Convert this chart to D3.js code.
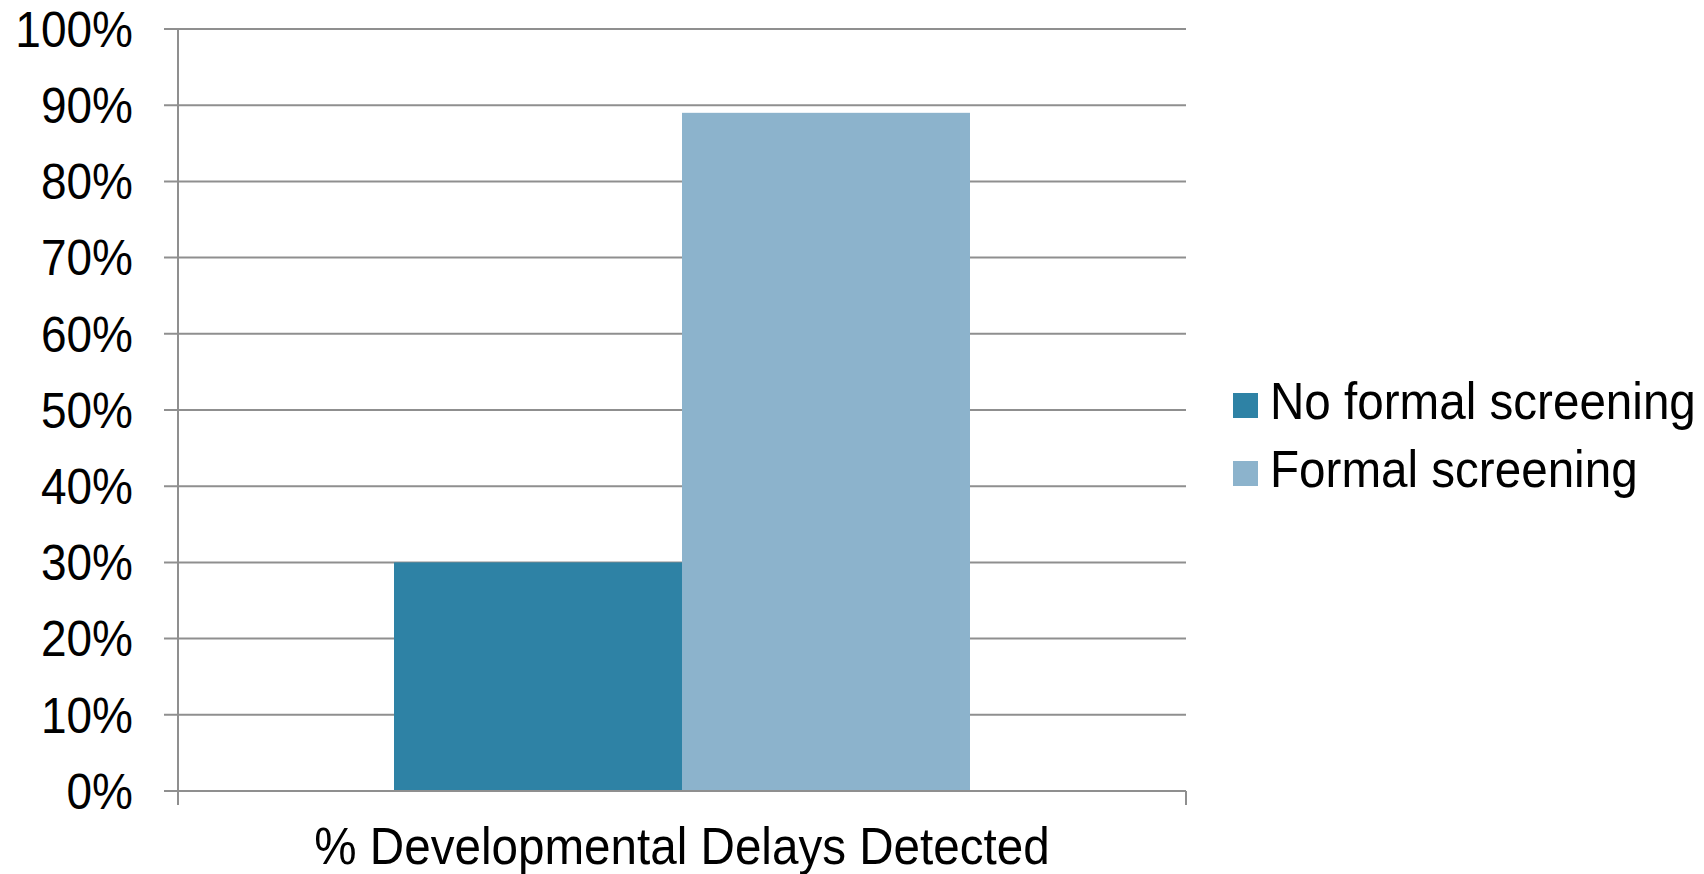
<!DOCTYPE html>
<html>
<head>
<meta charset="utf-8">
<script src="https://cdn.jsdelivr.net/npm/d3@7"></script>
<style>
  html, body { margin: 0; padding: 0; background: #ffffff; }
  svg { display: block; font-family: "Liberation Sans", Arial, sans-serif; }
</style>
</head>
<body>
<svg id="chart" width="1704" height="874"></svg>
<script>
// Data
const categories = ["% Developmental Delays Detected"];
const seriesNames = ["No formal screening", "Formal screening"];
const seriesValues = [[0.30], [0.89]];
const seriesColors = ["#2e82a5", "#8cb3cc"];
const yTicks = [0, 0.1, 0.2, 0.3, 0.4, 0.5, 0.6, 0.7, 0.8, 0.9, 1.0];

const svg = d3.select("#chart");
const plot = { left: 178, right: 1186, top: 29, bottom: 791 };
const gridColor = "#8f8f8f";
const textStretch = 1.07; // glyphs are drawn slightly taller than wide

const y = d3.scaleLinear().domain([0, 1]).range([plot.bottom, plot.top]);
const x0 = d3.scaleBand().domain(categories).range([plot.left, plot.right])
  .paddingInner(0).paddingOuter(0.375);
const x1 = d3.scaleBand().domain(seriesNames).range([0, x0.bandwidth()]).padding(0);

// Horizontal gridlines with left tick marks
svg.append("g")
  .selectAll("line")
  .data(yTicks)
  .join("line")
  .attr("x1", plot.left - 14)
  .attr("x2", plot.right)
  .attr("y1", d => y(d))
  .attr("y2", d => y(d))
  .attr("stroke", gridColor)
  .attr("stroke-width", 2);

// Y tick labels
svg.append("g")
  .selectAll("text")
  .data(yTicks)
  .join("text")
  .attr("transform", d => `translate(133,${y(d)}) scale(1,${textStretch})`)
  .attr("dy", "0.36em")
  .attr("text-anchor", "end")
  .attr("font-size", 46)
  .attr("fill", "#000")
  .text(d => d3.format(".0%")(d));

// Bars
const barG = svg.append("g");
categories.forEach((cat, ci) => {
  seriesNames.forEach((s, si) => {
    const v = seriesValues[si][ci];
    barG.append("rect")
      .attr("x", x0(cat) + x1(s))
      .attr("y", y(v))
      .attr("width", x1.bandwidth())
      .attr("height", y(0) - y(v))
      .attr("fill", seriesColors[si]);
  });
});

// Axis lines
svg.append("line")
  .attr("x1", plot.left).attr("x2", plot.left)
  .attr("y1", plot.top).attr("y2", plot.bottom + 14)
  .attr("stroke", gridColor).attr("stroke-width", 2);
svg.append("line")
  .attr("x1", plot.left - 14).attr("x2", plot.right)
  .attr("y1", plot.bottom).attr("y2", plot.bottom)
  .attr("stroke", gridColor).attr("stroke-width", 2);
svg.append("line")
  .attr("x1", plot.right).attr("x2", plot.right)
  .attr("y1", plot.bottom).attr("y2", plot.bottom + 14)
  .attr("stroke", gridColor).attr("stroke-width", 2);

// Category label
svg.append("g")
  .selectAll("text")
  .data(categories)
  .join("text")
  .attr("transform", d => `translate(${x0(d) + x0.bandwidth() / 2},864) scale(1,${textStretch})`)
  .attr("text-anchor", "middle")
  .attr("font-size", 47.6)
  .attr("fill", "#000")
  .text(d => d);

// Legend
const legend = svg.append("g").attr("transform", "translate(1233,393)");
const items = legend.selectAll("g")
  .data(seriesNames)
  .join("g")
  .attr("transform", (d, i) => `translate(0,${i * 68})`);
items.append("rect")
  .attr("width", 25).attr("height", 25)
  .attr("fill", (d, i) => seriesColors[i]);
items.append("text")
  .attr("transform", `translate(37,26) scale(1,${textStretch})`)
  .attr("font-size", 47.6)
  .attr("fill", "#000")
  .text(d => d);
</script>
</body>
</html>
